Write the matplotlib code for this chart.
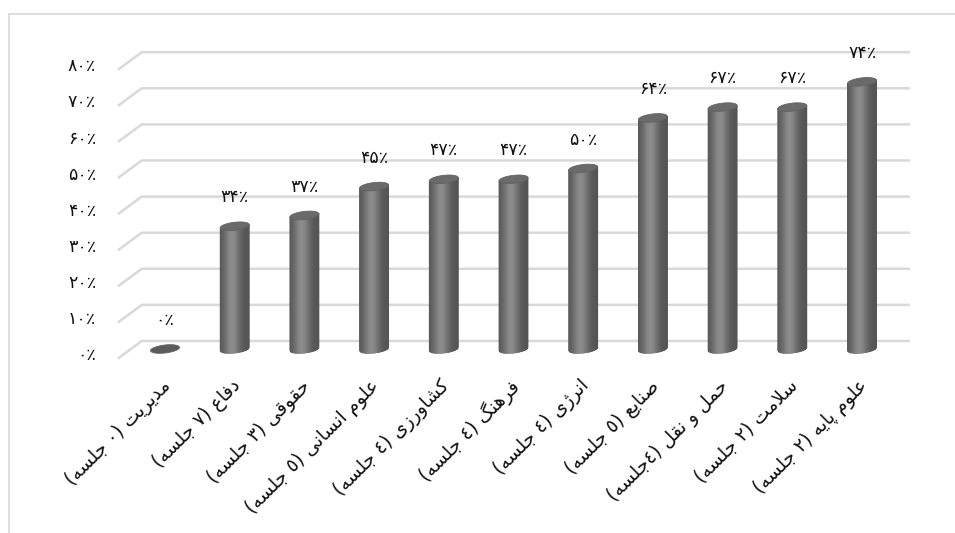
import numpy as np
import matplotlib
matplotlib.use("Agg")
import matplotlib.pyplot as plt
from matplotlib.collections import PolyCollection

# data
categories = ["مدیریت (۰ جلسه)", "دفاع (۷ جلسه)", "حقوقی (۳ جلسه)",
              "علوم انسانی (٥ جلسه)", "کشاورزی (٤ جلسه)", "فرهنگ (٤ جلسه)",
              "انرژی (٤ جلسه)", "صنایع (٥ جلسه)", "حمل و نقل (٤جلسه)",
              "سلامت (۲ جلسه)", "علوم پایه (۲ جلسه)"]
values = [0, 34, 37, 45, 47, 47, 50, 64, 67, 67, 74]
yticks = [0, 10, 20, 30, 40, 50, 60, 70, 80]

# --- tiny arabic/persian shaper (matplotlib has no complex text layout) ---
# letter: (isolated, final, initial, medial) ; right-joining letters only have 2
FORMS = {
    'ا': (0xFE8D, 0xFE8E), 'د': (0xFEA9, 0xFEAA), 'ر': (0xFEAD, 0xFEAE),
    'ز': (0xFEAF, 0xFEB0), 'ژ': (0xFB8A, 0xFB8B), 'و': (0xFEED, 0xFEEE),
    'ب': (0xFE8F, 0xFE90, 0xFE91, 0xFE92), 'پ': (0xFB56, 0xFB57, 0xFB58, 0xFB59),
    'ت': (0xFE95, 0xFE96, 0xFE97, 0xFE98), 'ج': (0xFE9D, 0xFE9E, 0xFE9F, 0xFEA0),
    'ح': (0xFEA1, 0xFEA2, 0xFEA3, 0xFEA4), 'س': (0xFEB1, 0xFEB2, 0xFEB3, 0xFEB4),
    'ش': (0xFEB5, 0xFEB6, 0xFEB7, 0xFEB8), 'ص': (0xFEB9, 0xFEBA, 0xFEBB, 0xFEBC),
    'ع': (0xFEC9, 0xFECA, 0xFECB, 0xFECC), 'ف': (0xFED1, 0xFED2, 0xFED3, 0xFED4),
    'ق': (0xFED5, 0xFED6, 0xFED7, 0xFED8), 'ک': (0xFB8E, 0xFB8F, 0xFB90, 0xFB91),
    'گ': (0xFB92, 0xFB93, 0xFB94, 0xFB95), 'ل': (0xFEDD, 0xFEDE, 0xFEDF, 0xFEE0),
    'م': (0xFEE1, 0xFEE2, 0xFEE3, 0xFEE4), 'ن': (0xFEE5, 0xFEE6, 0xFEE7, 0xFEE8),
    'ه': (0xFEE9, 0xFEEA, 0xFEEB, 0xFEEC), 'ی': (0xFBFC, 0xFBFD, 0xFBFE, 0xFBFF),
}
MIRROR = {'(': ')', ')': '('}


def rtl(s):
    out = []
    i = 0
    while i < len(s):
        c = s[i]
        if c not in FORMS:
            out.append(c)
            i += 1
            continue
        prev = s[i - 1] if i > 0 else ''
        prev_j = prev in FORMS and len(FORMS[prev]) == 4
        if c == 'ل' and i + 1 < len(s) and s[i + 1] == 'ا':
            out.append(chr(0xFEFC if prev_j else 0xFEFB))
            i += 2
            continue
        nxt = s[i + 1] if i + 1 < len(s) else ''
        next_j = nxt in FORMS and len(FORMS[c]) == 4
        f = FORMS[c]
        if prev_j and next_j:
            out.append(chr(f[3]))
        elif prev_j:
            out.append(chr(f[1]))
        elif next_j:
            out.append(chr(f[2]))
        else:
            out.append(chr(f[0]))
        i += 1
    return ''.join(MIRROR.get(ch, ch) for ch in reversed(out))


def fa(n):
    return ''.join(chr(0x06F0 + int(d)) for d in str(n)) + '٪'


# --- layout (pixels of the 955x533 picture) ---
W, H = 955, 533
px_cat = 69.7          # pixels between bar centres
px_pct = 3.61          # pixels per percent
x0_px, y0_px = 165, 349  # first bar centre, zero level

fig = plt.figure(figsize=(W / 100, H / 100), dpi=100)
ax = fig.add_axes([0, 0, 1, 1])
ax.set_xlim(-x0_px / px_cat, (W - x0_px) / px_cat)
ax.set_ylim((y0_px - H) / px_pct, y0_px / px_pct)
ax.axis('off')

# outer frame
fig.add_artist(plt.Rectangle((8.5 / W, -0.1), 1.2, 1.1 - 14.5 / H,
                             transform=fig.transFigure, fill=False,
                             edgecolor='#d9d9d9', lw=1.2))

# perspective gridlines
back_x = (141.7 - x0_px) / px_cat
front_x = (118 - x0_px) / px_cat
right_x = (910 - x0_px) / px_cat
back_dy = 8 / px_pct
front_dy = -9.5 / px_pct
for g in yticks:
    ax.plot([front_x, back_x, right_x], [g + front_dy, g + back_dy, g + back_dy],
            color='#d9d9d9', lw=1.8, zorder=0, solid_capstyle='butt')
    ax.text((96 - x0_px) / px_cat, g - 1.7, fa(g), ha='right', va='center',
            fontsize=12.5, color='#111111', family='DejaVu Sans')

# cylinders
a = 14.5 / px_cat       # half width
b = 4.0 / px_pct        # ellipse half height
k = 1.6 / px_pct        # tilt
N = 40
for i, v in enumerate(values):
    u = np.linspace(-1, 1, N + 1)
    xs = i + a * u
    low = -b * np.sqrt(1 - u ** 2) + k * u
    polys, cols = [], []
    if v > 0:
        for j in range(N):
            polys.append([(xs[j], low[j]), (xs[j + 1], low[j + 1]),
                          (xs[j + 1], v + low[j + 1]), (xs[j], v + low[j])])
            um = 0.5 * (u[j] + u[j + 1])
            gval = 0.33 + 0.22 * np.exp(-((um + 0.15) / 0.55) ** 2)
            cols.append((gval, gval, gval))
        pc = PolyCollection(polys, facecolors=cols, edgecolors=cols, lw=0.6, zorder=2)
        ax.add_collection(pc)
    t = np.linspace(0, 2 * np.pi, 80)
    top_c = '#6a6a6a' if v > 0 else '#5c5c5c'
    ax.fill(i + a * np.cos(t), v + b * np.sin(t) + k * np.cos(t), color=top_c,
            lw=0.6, ec='#626262', zorder=3)
    ax.text(i, v + 8, fa(v), ha='center', va='center', fontsize=12.5,
            color='#111111', family='DejaVu Sans', zorder=4)

# category labels, rotated
for i, c in enumerate(categories):
    ax.text(i - 0.06, (y0_px - 376) / px_pct, rtl(c), rotation=45,
            rotation_mode='anchor', ha='right', va='top', fontsize=13.5,
            color='#111111', family='DejaVu Sans')

fig.savefig('out.png', dpi=100)
